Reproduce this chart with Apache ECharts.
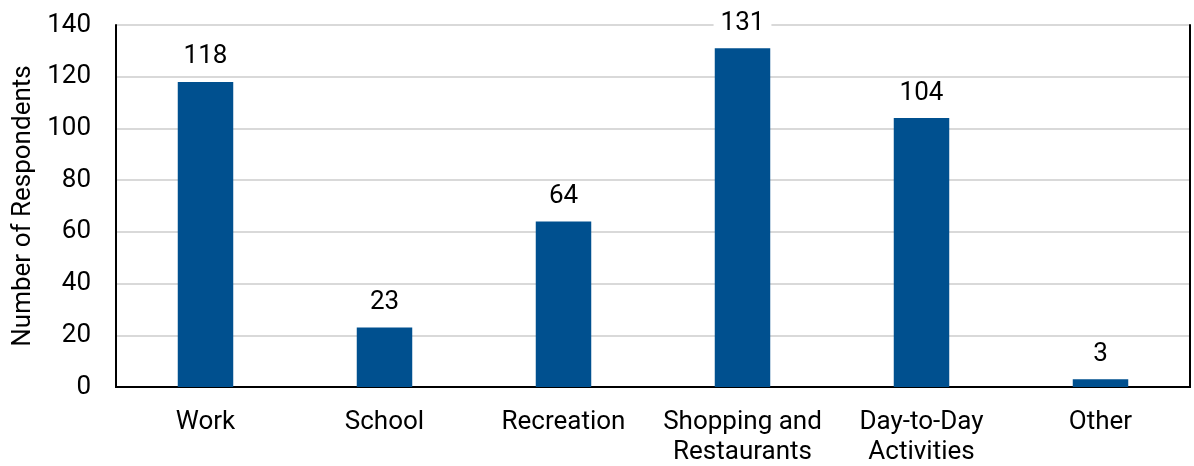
<!DOCTYPE html>
<html>
<head>
<meta charset="utf-8">
<script src="https://cdn.jsdelivr.net/npm/echarts@6/dist/echarts.min.js"></script>
<style>
  html, body { margin: 0; padding: 0; background: #fff; }
  #chart { width: 1194px; height: 466px; }
</style>
</head>
<body>
<div id="chart"></div>
<script>
// categories and counts
var categories = ['Work', 'School', 'Recreation', 'Shopping and\nRestaurants', 'Day-to-Day\nActivities', 'Other'];
var respondents = [118, 23, 64, 131, 104, 3];
var yTicks = [0, 20, 40, 60, 80, 100, 120, 140];

var frameLine = { show: true, lineStyle: { color: '#000', width: 2 } };

var myChart = echarts.init(document.getElementById('chart'));
var option = {
    animation: false,
    textStyle: { fontFamily: 'Roboto' },
    grid: {
        left: 116,
        right: 4,
        top: 25,
        bottom: 79,
        outerBoundsMode: 'none',
        containLabel: false
    },
    xAxis: [
        {
            type: 'category',
            data: categories,
            position: 'bottom',
            axisLine: frameLine,
            axisTick: { show: false },
            axisLabel: {
                interval: 0,
                color: '#000',
                fontSize: 26,
                lineHeight: 30,
                margin: 20
            }
        },
        {
            // top frame line only
            type: 'category',
            data: categories,
            position: 'top',
            axisLine: frameLine,
            axisTick: { show: false },
            axisLabel: { show: false }
        }
    ],
    yAxis: [
        {
            type: 'value',
            min: yTicks[0],
            max: yTicks[yTicks.length - 1],
            interval: 20,
            position: 'left',
            name: 'Number of Respondents',
            nameLocation: 'middle',
            nameGap: 78,
            nameTextStyle: { color: '#000', fontSize: 26 },
            axisLine: frameLine,
            axisTick: { show: false },
            axisLabel: { color: '#000', fontSize: 26, margin: 25 },
            splitLine: { lineStyle: { color: '#d9d9d9', width: 2 } }
        },
        {
            // right frame line only
            type: 'value',
            min: yTicks[0],
            max: yTicks[yTicks.length - 1],
            interval: 20,
            position: 'right',
            axisLine: frameLine,
            axisTick: { show: false },
            axisLabel: { show: false },
            splitLine: { show: false }
        }
    ],
    series: [
        {
            name: 'Respondents',
            type: 'bar',
            data: respondents,
            barWidth: '31%',
            itemStyle: { color: '#00508f' },
            label: {
                show: true,
                position: 'top',
                distance: 12,
                color: '#000',
                fontSize: 26,
                backgroundColor: '#fff',
                padding: [0, 7]
            }
        }
    ]
};
myChart.setOption(option);
</script>
</body>
</html>
